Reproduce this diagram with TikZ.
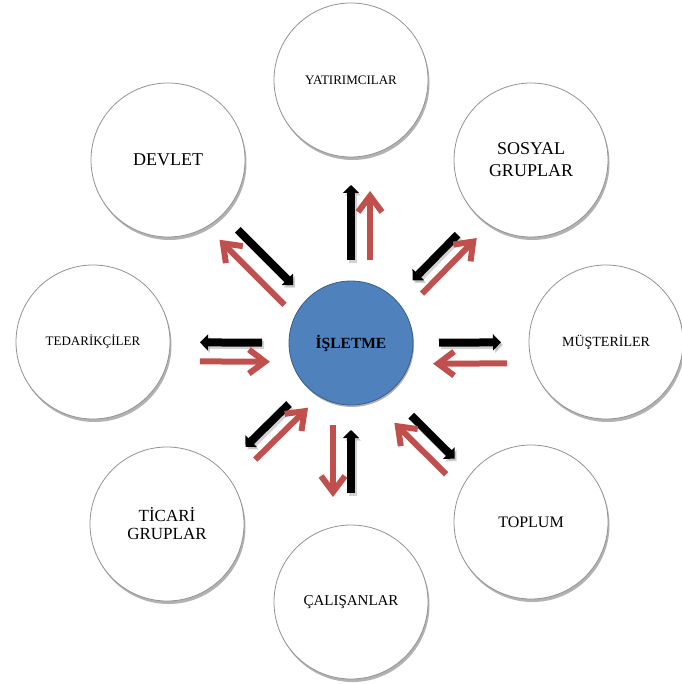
\documentclass[tikz,border=0pt]{standalone}
\usepackage{fontspec}
\setmainfont{Liberation Serif}
\usetikzlibrary{arrows.meta,calc,shadows}
\definecolor{offred}{HTML}{C0504D}
\definecolor{offblue}{HTML}{4F81BD}
\definecolor{offblueline}{HTML}{385D8A}

\begin{document}
\begin{tikzpicture}[x=1pt,y=-1pt,
    party/.style={circle, draw=gray!85, line width=0.8pt, fill=white, minimum size=154pt,
      inner sep=0pt, align=center, font=\fontsize{13}{15}\selectfont,
      drop shadow={shadow xshift=1.5pt, shadow yshift=-3pt, opacity=.3, fill=black}},
    big/.style={font=\fontsize{18}{22}\selectfont},
    firm/.style={circle, draw=offblueline, line width=0.8pt, fill=offblue, minimum size=124pt,
      inner sep=0pt, font=\bfseries\fontsize{15.5}{18}\selectfont,
      drop shadow={shadow xshift=1pt, shadow yshift=-2pt, opacity=.3, fill=black}},
    blk/.style={line width=8pt, black, -{Triangle[length=8pt,width=16pt]}},
    blkshadow/.style={blk, draw=black!35, opacity=.5, transform canvas={shift={(2pt,-2.5pt)}}},
    redarr/.style={line width=6pt, offred, -{Straight Barb[length=16pt,width=24pt]}}]
  \useasboundingbox (0,0) rectangle (681,684);
  % the firm and its stakeholders
  \node[firm] (isl) at (351,343) {İŞLETME};
  \node[party] (yat) at (351,80) {YATIRIMCILAR};
  \node[party,big] (sos) at (531,160) {SOSYAL\\GRUPLAR};
  \node[party,font=\fontsize{14}{16}\selectfont] (mus) at (606,342) {MÜŞTERİLER};
  \node[party,font=\fontsize{16}{18}\selectfont] (topl) at (531,522) {TOPLUM};
  \node[party,font=\fontsize{15}{17}\selectfont] (cal) at (351,602) {ÇALIŞANLAR};
  \node[party,font=\fontsize{17}{18}\selectfont] (tic) at (167,524) {TİCARİ\\GRUPLAR};
  \node[party] (ted) at (93,342) {TEDARİKÇİLER};
  \node[party,big] (dev) at (168,160) {DEVLET};
  % arrow pairs: node/black from/to/offset/red from/to/offset
  \foreach \n/\bs/\be/\bo/\rs/\re/\ro in {yat/83/158/0/83/152/-19, dev/160/82/0/74/166/20,
      sos/152/88/0/85/163/-16, mus/88/150/0/156/82/-21, ted/89/151/0/151/81/19,
      tic/87/148/0/150/76/16, cal/150/87/0/82/154/-18, topl/94/155/-9/160/87/-26}{
    \draw[blkshadow] ($(isl)!\bs pt!(\n)!\bo pt!90:(\n)$) -- ($(isl)!\be pt!(\n)!\bo pt!90:(\n)$);
    \draw[blk] ($(isl)!\bs pt!(\n)!\bo pt!90:(\n)$) -- ($(isl)!\be pt!(\n)!\bo pt!90:(\n)$);
    \draw[redarr] ($(isl)!\rs pt!(\n)!\ro pt!90:(\n)$) -- ($(isl)!\re pt!(\n)!\ro pt!90:(\n)$);
  }
\end{tikzpicture}
\end{document}
